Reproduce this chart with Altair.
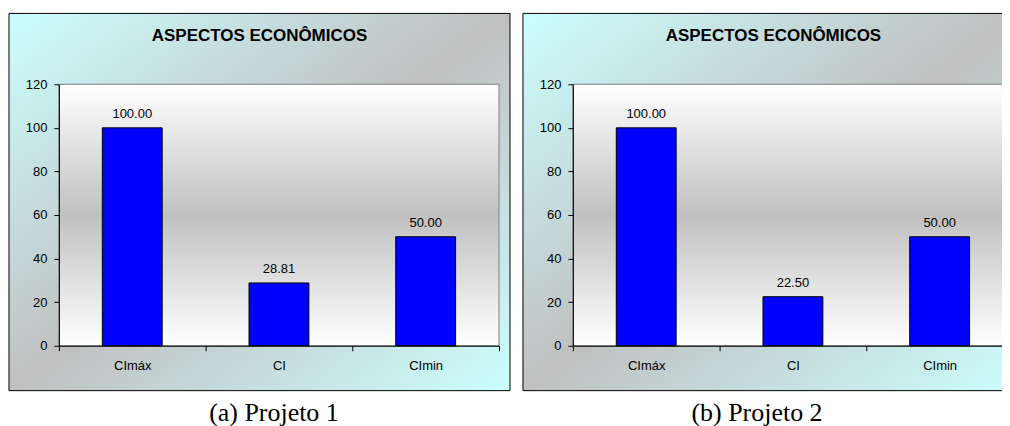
import altair as alt
import pandas as pd

categories = ["CImáx", "CI", "CImin"]
values_p1 = [100.00, 28.81, 50.00]
values_p2 = [100.00, 22.50, 50.00]
y_ticks = [0, 20, 40, 60, 80, 100, 120]
title_text = "ASPECTOS ECONÔMICOS"
captions = ["(a) Projeto 1", "(b) Projeto 2"]

PLOT_W = 441
PLOT_H = 262

outer_grad = alt.Gradient(
    gradient="linear", x1=0, y1=0, x2=1, y2=1,
    stops=[alt.GradientStop(color="#CCFFFF", offset=0),
           alt.GradientStop(color="#C0C0C0", offset=0.5),
           alt.GradientStop(color="#CCFFFF", offset=1)])
plot_grad = alt.Gradient(
    gradient="linear", x1=0, y1=0, x2=0, y2=1,
    stops=[alt.GradientStop(color="#FFFFFF", offset=0),
           alt.GradientStop(color="#C0C0C0", offset=0.5),
           alt.GradientStop(color="#FFFFFF", offset=1)])


def panel(values, caption, cap_x):
    df = pd.DataFrame({"cat": categories, "val": values})
    one = pd.DataFrame({"k": [0]})
    box = alt.Chart(one).mark_rect(fill=outer_grad, stroke="black", strokeWidth=1).encode(
        x=alt.value(-50), x2=alt.value(PLOT_W + 11),
        y=alt.value(-71), y2=alt.value(PLOT_H + 45))
    plot_bg = alt.Chart(one).mark_rect(fill=plot_grad, stroke="#808080", strokeWidth=1).encode(
        x=alt.value(0), x2=alt.value(PLOT_W), y=alt.value(0), y2=alt.value(PLOT_H))
    xenc = alt.X("cat:N", sort=categories,
                 scale=alt.Scale(paddingInner=0, paddingOuter=0),
                 axis=alt.Axis(title=None, labelAngle=0, tickBand="extent", tickSize=5,
                               labelPadding=9, labelFont="Liberation Sans", labelFontSize=13,
                               labelColor="black", domainColor="black", tickColor="black",
                               zindex=1))
    yenc = alt.Y("val:Q", scale=alt.Scale(domain=[0, 120]),
                 axis=alt.Axis(title=None, values=y_ticks, grid=False, tickSize=5,
                               labelPadding=7, labelFont="Liberation Sans", labelFontSize=13,
                               labelColor="black", domainColor="black", tickColor="black",
                               zindex=1))
    bars = alt.Chart(df).mark_bar(width=alt.RelativeBandSize(0.408), fill="#0000FF",
                                  stroke="black", strokeWidth=1).encode(x=xenc, y=yenc)
    labels = alt.Chart(df).mark_text(dy=-10, baseline="alphabetic", fontSize=13,
                                     font="Liberation Sans", color="black").encode(
        x=alt.X("cat:N", sort=categories), y="val:Q",
        text=alt.Text("val:Q", format=".2f"))
    title = alt.Chart(one).mark_text(text=title_text, font="Liberation Sans", fontWeight="bold",
                                     fontSize=17, color="black", baseline="middle",
                                     align="center").encode(
        x=alt.value(201), y=alt.value(-48))
    cap = alt.Chart(one).mark_text(text=caption, font="Liberation Serif", fontSize=26,
                                   color="black", baseline="alphabetic", align="center").encode(
        x=alt.value(cap_x), y=alt.value(337))
    return alt.layer(box, plot_bg, bars, labels, title, cap).properties(
        width=PLOT_W, height=PLOT_H)


p1 = panel(values_p1, captions[0], 215.5)
p2 = panel(values_p2, captions[1], 184.5)

chart = alt.hconcat(p1, p2, spacing=11).properties(
    padding={"left": 0, "top": 4, "right": -23, "bottom": 0},
    background="white"
).configure_view(stroke=None)

chart.save("out.html", embed_options={"renderer": "svg", "actions": False})
